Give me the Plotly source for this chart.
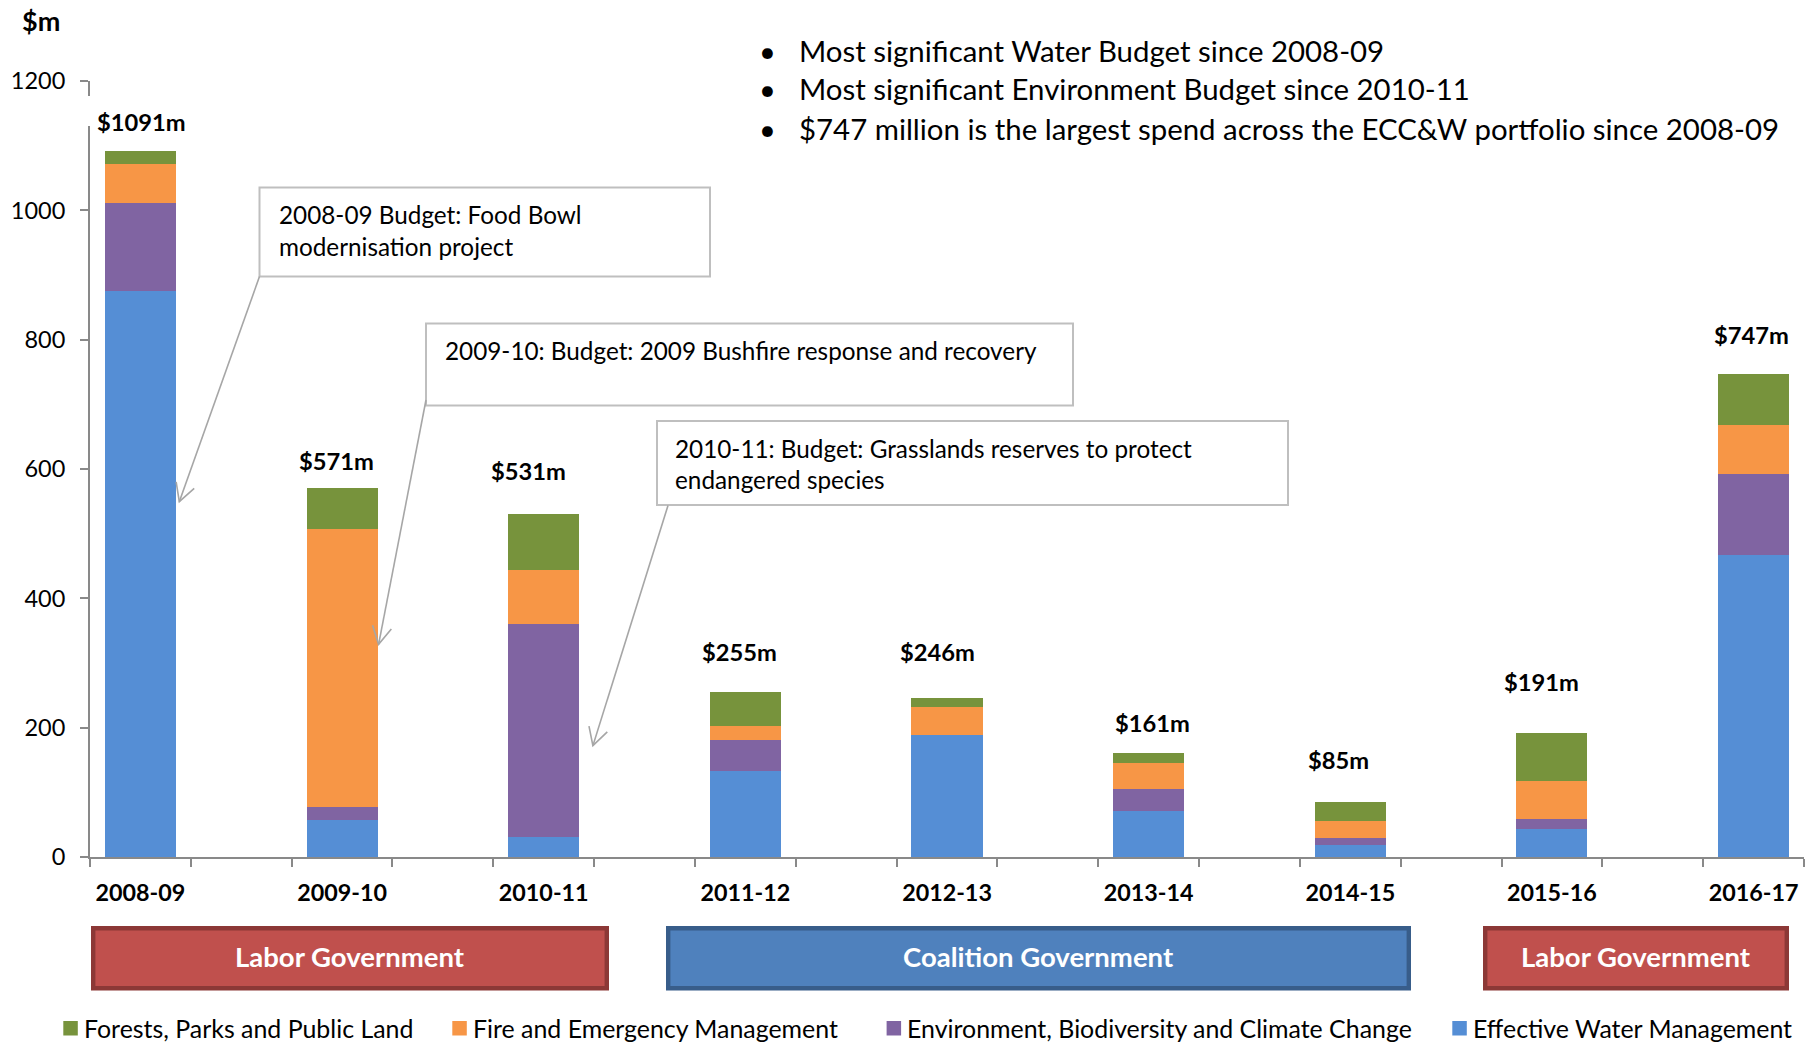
import math
import plotly.graph_objects as go

# ---------------- data ----------------
years = ["2008-09", "2009-10", "2010-11", "2011-12", "2012-13",
         "2013-14", "2014-15", "2015-16", "2016-17"]
water = [876, 57, 31, 133, 188, 71, 19, 44, 467]        # Effective Water Management
env = [135, 21, 330, 48, 0, 34, 11, 15, 125]            # Environment, Biodiversity and Climate Change
fire = [60, 429, 83, 21, 44, 41, 26, 58, 76]            # Fire and Emergency Management
forests = [20, 64, 87, 53, 14, 15, 29, 74, 79]          # Forests, Parks and Public Land

series_names = ["Effective Water Management",
                "Environment, Biodiversity and Climate Change",
                "Fire and Emergency Management",
                "Forests, Parks and Public Land"]
series_values = [water, env, fire, forests]
series_colors = ["#558ED5", "#8064A2", "#F79646", "#77933C"]

y_ticks = [0, 200, 400, 600, 800, 1000, 1200]

bullets = ["Most significant Water Budget since 2008-09",
           "Most significant Environment Budget since 2010-11",
           "$747 million is the largest spend across the ECC&W portfolio since 2008-09"]

callouts = [
    ["2008-09 Budget: Food Bowl", "modernisation project"],
    ["2009-10: Budget: 2009 Bushfire response and recovery"],
    ["2010-11: Budget: Grasslands reserves to protect", "endangered species"],
]

governments = ["Labor Government", "Coalition Government", "Labor Government"]

# ---------------- layout geometry (pixels) ----------------
W, H = 1809, 1043
ML, MR, MT, MB = 90, 5, 81, 186
PW = W - ML - MR
PH = H - MT - MB
FONT = "Lato"


def px(x):
    return (x - ML) / PW


def py(y):
    return (H - MB - y) / PH


slots = [2 * i for i in range(len(years))]
totals = [sum(v) for v in zip(*series_values)]

fig = go.Figure()
for name, vals, col in zip(series_names, series_values, series_colors):
    fig.add_trace(go.Bar(
        x=slots, y=vals, name=name, width=0.705,
        marker=dict(color=col, line=dict(width=0)),
        showlegend=False,
        hovertemplate=name + ": %{y}<extra></extra>",
    ))

annotations = []
shapes = []

# total labels above bars (pixel nudges to follow the reference placement)
label_dx = [1, -6, -15, -6, -10, 4, -12, -10, -2]
label_dy = [29, 27, 43, 40, 46, 30, 42, 51, 39]
for s, t, dx, dy in zip(slots, totals, label_dx, label_dy):
    annotations.append(dict(
        x=s, y=t, xref="x", yref="y", text="<b>$%dm</b>" % t,
        showarrow=False, xshift=dx, yshift=dy, xanchor="center", yanchor="middle",
        font=dict(family=FONT, size=23.7, color="black")))

# "$m" unit label
annotations.append(dict(x=px(41), y=py(20), xref="paper", yref="paper",
                        text="<b>$m</b>", showarrow=False, xanchor="center",
                        yanchor="middle", font=dict(family=FONT, size=27, color="black")))

# bullets
bullet_y = [51, 89, 128]
for txt, yy in zip(bullets, bullet_y):
    annotations.append(dict(x=px(767), y=py(yy), xref="paper", yref="paper",
                            text="•", showarrow=False, xanchor="center", yanchor="middle",
                            font=dict(family=FONT, size=29, color="black")))
    annotations.append(dict(x=px(797), y=py(yy), xref="paper", yref="paper",
                            text=txt, showarrow=False, xanchor="left", yanchor="middle",
                            font=dict(family=FONT, size=29.4, color="black")))

# callout boxes
box_rects = [(259.5, 187.5, 710, 276.5), (426, 323.5, 1073, 405.5), (657, 421, 1288, 505)]
text_left = [277, 443, 673]
line_offsets = [27, 59]
arrow_lines = [((259.5, 276.5), (179.3, 501.7)),
               ((426, 400), (378.6, 644.3)),
               ((668, 505.5), (592.9, 745.7))]
for (x0, y0, x1, y1), lines, tl in zip(box_rects, callouts, text_left):
    shapes.append(dict(type="rect", xref="paper", yref="paper",
                       x0=px(x0), x1=px(x1), y0=py(y0), y1=py(y1),
                       line=dict(color="#BFBFBF", width=2), fillcolor="white", layer="above"))
    for ln, off in zip(lines, line_offsets):
        annotations.append(dict(x=px(tl), y=py(y0 + off), xref="paper", yref="paper",
                                text=ln, showarrow=False, xanchor="left", yanchor="middle",
                                font=dict(family=FONT, size=24.3, color="black")))

for (sx, sy), (tx, ty) in arrow_lines:
    shapes.append(dict(type="line", xref="paper", yref="paper",
                       x0=px(sx), y0=py(sy), x1=px(tx), y1=py(ty),
                       line=dict(color="#A6A6A6", width=1.6), layer="above"))
    ang = math.atan2(sy - ty, sx - tx)
    pts = []
    for d in (-0.5, 0.5):
        pts.append((tx + 20 * math.cos(ang + d), ty + 20 * math.sin(ang + d)))
    path = "M %f %f L %f %f L %f %f" % (px(pts[0][0]), py(pts[0][1]), px(tx), py(ty),
                                          px(pts[1][0]), py(pts[1][1]))
    shapes.append(dict(type="path", xref="paper", yref="paper", path=path,
                       line=dict(color="#A6A6A6", width=1.6), layer="above"))

# government bands
gov_rects = [(91, 609), (666, 1411), (1483, 1789)]
gov_fill = ["#C0504D", "#4F81BD", "#C0504D"]
gov_line = ["#8C3836", "#385D8A", "#8C3836"]
for (x0, x1), g, fc, lc in zip(gov_rects, governments, gov_fill, gov_line):
    shapes.append(dict(type="rect", xref="paper", yref="paper",
                       x0=px(x0 + 2.2), x1=px(x1 - 2.2), y0=py(926 + 2.2), y1=py(990.5 - 2.2),
                       line=dict(color=lc, width=4.4), fillcolor=fc, layer="above"))
    annotations.append(dict(x=px((x0 + x1) / 2), y=py(956.5), xref="paper", yref="paper",
                            text="<b>%s</b>" % g, showarrow=False, xanchor="center",
                            yanchor="middle", font=dict(family=FONT, size=27.5, color="white")))

# custom legend (reverse order: Forests, Fire, Environment, Water)
legend_x = [63.3, 452.3, 886.6, 1452.3]
for name, col, lx in zip(series_names[::-1], series_colors[::-1], legend_x):
    shapes.append(dict(type="rect", xref="paper", yref="paper",
                       x0=px(lx), x1=px(lx + 14.5), y0=py(1021), y1=py(1035.5),
                       line=dict(width=0), fillcolor=col, layer="above"))
    annotations.append(dict(x=px(lx + 18.5), y=py(1028), xref="paper", yref="paper",
                            text=name, showarrow=False, xanchor="left", yanchor="middle",
                            font=dict(family=FONT, size=24.9, color="black")))

# small gap in the y axis line behind the first total label
shapes.append(dict(type="rect", xref="paper", yref="paper",
                   x0=px(86), x1=px(95), y0=py(96), y1=py(126),
                   line=dict(width=0), fillcolor="white", layer="above"))

fig.update_layout(
    width=W, height=H, barmode="stack",
    margin=dict(l=ML, r=MR, t=MT, b=MB, pad=0, autoexpand=False),
    paper_bgcolor="white", plot_bgcolor="white",
    showlegend=False,
    font=dict(family=FONT, color="black"),
    annotations=annotations, shapes=shapes,
    xaxis=dict(range=[-0.5, 16.5], tickmode="array", tickvals=slots, ticktext=years,
               ticks="", showgrid=False, zeroline=False, showline=True,
               linecolor="#898989", linewidth=2, ticklabelstandoff=14,
               tickfont=dict(family=FONT, size=23.3, color="black", weight="bold"),
               minor=dict(tickmode="array", tickvals=[k - 0.5 for k in range(18)],
                          ticks="outside", ticklen=8, tickwidth=2, tickcolor="#898989",
                          showgrid=False),
               fixedrange=True),
    yaxis=dict(range=[0, 1200], tickmode="array", tickvals=y_ticks,
               ticks="outside", ticklen=8, tickwidth=2, tickcolor="#898989",
               showgrid=False, zeroline=False, showline=True,
               linecolor="#898989", linewidth=2, ticklabelstandoff=10,
               tickfont=dict(family=FONT, size=23.5, color="black"),
               fixedrange=True),
)

fig.write_html(
    "out.html",
    config={"displayModeBar": False},
    post_script="document.body.style.margin='0';document.body.style.padding='0';"
                "document.body.style.overflow='hidden';",
)
